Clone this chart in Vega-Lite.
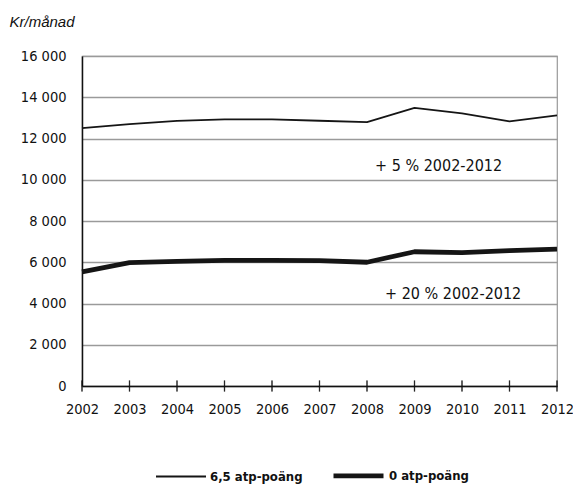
{
  "$schema": "https://vega.github.io/schema/vega-lite/v6.json",
  "autosize": "none",
  "width": 475,
  "height": 330,
  "padding": {"left": 82, "top": 56, "right": 16, "bottom": 99},
  "background": "white",
  "datasets": {
    "lines": [
      {"year": 2002, "series": "6,5 atp-poäng", "value": 12500},
      {"year": 2003, "series": "6,5 atp-poäng", "value": 12700},
      {"year": 2004, "series": "6,5 atp-poäng", "value": 12850},
      {"year": 2005, "series": "6,5 atp-poäng", "value": 12930},
      {"year": 2006, "series": "6,5 atp-poäng", "value": 12930},
      {"year": 2007, "series": "6,5 atp-poäng", "value": 12860},
      {"year": 2008, "series": "6,5 atp-poäng", "value": 12790},
      {"year": 2009, "series": "6,5 atp-poäng", "value": 13480},
      {"year": 2010, "series": "6,5 atp-poäng", "value": 13220},
      {"year": 2011, "series": "6,5 atp-poäng", "value": 12830},
      {"year": 2012, "series": "6,5 atp-poäng", "value": 13120},
      {"year": 2002, "series": "0 atp-poäng", "value": 5530},
      {"year": 2003, "series": "0 atp-poäng", "value": 5980},
      {"year": 2004, "series": "0 atp-poäng", "value": 6045},
      {"year": 2005, "series": "0 atp-poäng", "value": 6090},
      {"year": 2006, "series": "0 atp-poäng", "value": 6090},
      {"year": 2007, "series": "0 atp-poäng", "value": 6075},
      {"year": 2008, "series": "0 atp-poäng", "value": 6000},
      {"year": 2009, "series": "0 atp-poäng", "value": 6510},
      {"year": 2010, "series": "0 atp-poäng", "value": 6465},
      {"year": 2011, "series": "0 atp-poäng", "value": 6560},
      {"year": 2012, "series": "0 atp-poäng", "value": 6640}
    ],
    "notes": [
      {"x": 2008.17, "y": 10680, "label": "+ 5 % 2002-2012"},
      {"x": 2008.38, "y": 4460, "label": "+ 20 % 2002-2012"}
    ]
  },
  "config": {
    "locale": {"number": {"decimal": ",", "thousands": " ", "grouping": [3], "currency": ["", " kr"]}},
    "view": {"stroke": "#9a9a9a", "strokeWidth": 1.2},
    "font": "DejaVu Sans Condensed, sans-serif"
  },
  "layer": [
    {
      "data": {"name": "lines"},
      "mark": {"type": "line", "color": "#151515", "strokeJoin": "round"},
      "encoding": {
        "x": {"field": "year", "type": "quantitative", "scale": {"domain": [2002, 2012], "nice": false, "zero": false},
          "axis": {"title": null, "values": [2002,2003,2004,2005,2006,2007,2008,2009,2010,2011,2012], "format": "d", "grid": false, "domainColor": "#111", "domainWidth": 1.5, "ticks": false, "labelFont": "DejaVu Sans Condensed, sans-serif", "labelFontSize": 14.5, "labelColor": "#111", "labelPadding": 16, "labelFlush": false}},
        "y": {"field": "value", "type": "quantitative", "scale": {"domain": [0, 16000], "nice": false},
          "axis": {"title": "Kr/månad", "titleAngle": 0, "titleX": -73, "titleY": -30, "titleAlign": "left", "titleBaseline": "alphabetic", "titleFont": "Liberation Sans", "titleFontStyle": "italic", "titleFontWeight": "normal", "titleFontSize": 15, "titleColor": "#111",
            "values": [0,2000,4000,6000,8000,10000,12000,14000,16000], "format": ",d", "grid": true, "gridColor": "#9a9a9a", "gridWidth": 1.5, "ticks": false, "domainColor": "#111", "domainWidth": 1.5, "labelFont": "DejaVu Sans Condensed, sans-serif", "labelFontSize": 14.5, "labelColor": "#111", "labelPadding": 16, "labelOverlap": false}},
        "strokeWidth": {"field": "series", "type": "nominal", "scale": {"domain": ["6,5 atp-poäng", "0 atp-poäng"], "range": [1.8, 4.8]},
          "legend": {"title": null, "orient": "none", "legendX": 73, "legendY": 392, "direction": "horizontal", "symbolType": "stroke", "symbolSize": 2500, "symbolStrokeColor": "#151515", "labelFont": "DejaVu Sans Condensed, sans-serif", "labelFontSize": 13, "labelFontWeight": "bold", "labelColor": "#111", "labelOffset": 3, "columnPadding": 20}},
        "detail": {"field": "series"}
      }
    },
    {
      "data": {"name": "lines"},
      "mark": {"type": "tick", "orient": "vertical", "color": "#111", "thickness": 1.2, "size": 11},
      "encoding": {
        "x": {"field": "year", "type": "quantitative"},
        "y": {"datum": 0, "type": "quantitative"}
      }
    },
    {
      "data": {"name": "notes"},
      "mark": {"type": "text", "align": "left", "baseline": "middle", "font": "DejaVu Sans Condensed, sans-serif", "fontSize": 16, "color": "#111"},
      "encoding": {
        "x": {"field": "x", "type": "quantitative"},
        "y": {"field": "y", "type": "quantitative"},
        "text": {"field": "label"}
      }
    }
  ]
}
